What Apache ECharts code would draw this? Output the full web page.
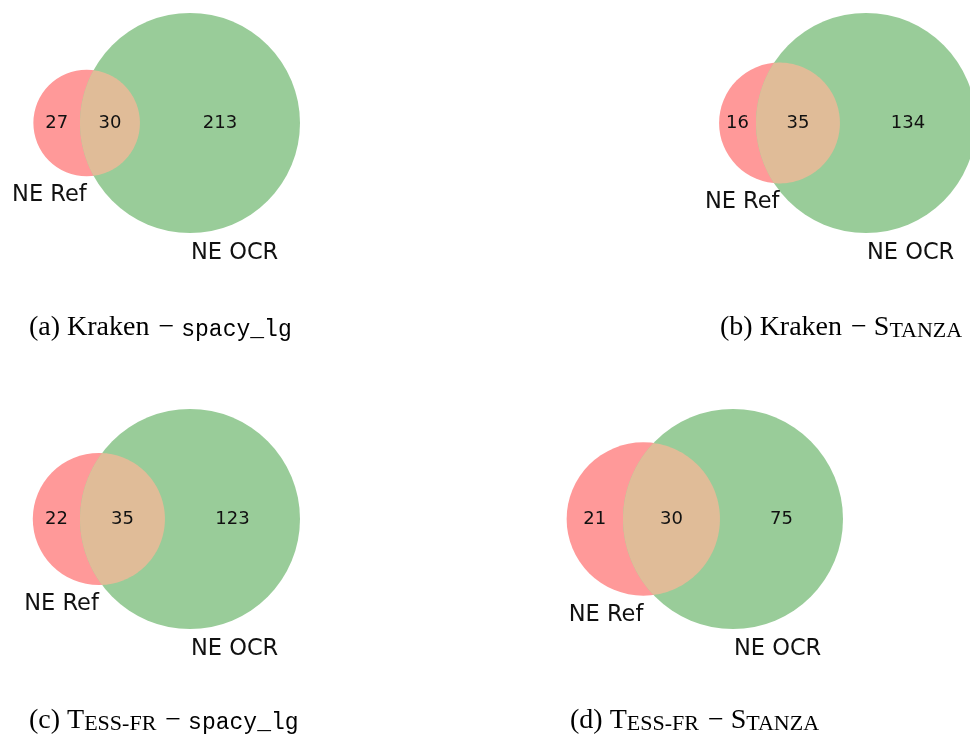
<!DOCTYPE html>
<html>
<head>
<meta charset="utf-8">
<script src="https://cdn.jsdelivr.net/npm/echarts@6/dist/echarts.min.js"></script>
<style>
html, body { margin: 0; padding: 0; background: #fff; }
#main { width: 970px; height: 736px; }
</style>
</head>
<body>
<div id="main"></div>
<script>
// counts of named entities per panel
var refOnly = [27, 16, 22, 21];
var common = [30, 35, 35, 30];
var ocrOnly = [213, 134, 123, 75];
var setNames = ['NE Ref', 'NE OCR'];
var captionTags = ['(a)', '(b)', '(c)', '(d)'];
var engines = ['Kraken', 'Kraken', 'Tess-fr', 'Tess-fr'];
var models = ['spacy_lg', 'Stanza', 'spacy_lg', 'Stanza'];

// layout (pixels): centre of the OCR circle in each panel, caption anchor
var anchors = [[190, 123], [866, 123], [190, 519], [733, 519]];
var captionPos = [[29, 342], [720, 342], [29, 735], [570, 735]];
var unitPx = 110;

var colRef = '#ff9999', colOcr = '#99cc99', colBoth = '#e0bc98';

function lensArea(r1, r2, d) {
    var a1 = Math.acos((d * d + r1 * r1 - r2 * r2) / (2 * d * r1));
    var a2 = Math.acos((d * d + r2 * r2 - r1 * r1) / (2 * d * r2));
    var k = (-d + r1 + r2) * (d + r1 - r2) * (d - r1 + r2) * (d + r1 + r2);
    return r1 * r1 * a1 + r2 * r2 * a2 - 0.5 * Math.sqrt(Math.max(k, 0));
}

function solveDist(r1, r2, target) {
    var lo = Math.abs(r1 - r2) + 1e-9, hi = r1 + r2 - 1e-9;
    for (var n = 0; n < 80; n++) {
        var mid = (lo + hi) / 2;
        if (lensArea(r1, r2, mid) > target) lo = mid; else hi = mid;
    }
    return (lo + hi) / 2;
}

function smallCaps(word) {
    return '{rm|' + word.charAt(0).toUpperCase() + '}{sc|' + word.slice(1).toUpperCase() + '}';
}

function captionText(i) {
    var eng = engines[i] === 'Kraken' ? '{rm|' + engines[i] + '}' : smallCaps(engines[i]);
    var mod = models[i] === 'spacy_lg' ? '{tt|' + models[i] + '}' : smallCaps(models[i]);
    return '{rm|' + captionTags[i] + ' }' + eng + '{dash|\u2212}' + mod;
}

var grids = [], xAxes = [], yAxes = [], series = [];
for (var i = 0; i < 4; i++) {
    var nRef = refOnly[i] + common[i];
    var nOcr = common[i] + ocrOnly[i];
    var rB = 1;
    var rA = Math.sqrt(nRef / nOcr);
    var d = solveDist(rA, rB, Math.PI * common[i] / nOcr);

    grids.push({
        left: anchors[i][0] - 1.6 * unitPx,
        top: anchors[i][1] - 1.1 * unitPx,
        width: 2.5 * unitPx,
        height: 2.2 * unitPx
    });
    xAxes.push({ type: 'value', gridIndex: i, min: -1.6, max: 0.9, show: false });
    yAxes.push({ type: 'value', gridIndex: i, min: -1.1, max: 1.1, show: false });

    series.push({
        type: 'custom',
        xAxisIndex: i,
        yAxisIndex: i,
        silent: true,
        clip: false,
        data: [[-d, 0, rA, rB, refOnly[i], common[i], ocrOnly[i]]],
        renderItem: function (params, api) {
            var xA = api.value(0), xB = api.value(1);
            var rA = api.value(2), rB = api.value(3);
            var d = xB - xA;
            var pA = api.coord([xA, 0]), pB = api.coord([xB, 0]);
            var sA = api.size([rA, rA])[0], sB = api.size([rB, rB])[0];

            // lens outline from both arcs
            var x0 = (d * d + rA * rA - rB * rB) / (2 * d);
            var h = Math.sqrt(Math.max(rA * rA - x0 * x0, 0));
            var al = Math.atan2(h, x0), be = Math.atan2(h, d - x0);
            var pts = [], n = 90, t;
            for (var k = 0; k <= n; k++) {
                t = -al + 2 * al * k / n;
                pts.push(api.coord([xA + rA * Math.cos(t), rA * Math.sin(t)]));
            }
            for (k = 0; k <= n; k++) {
                t = Math.PI - be + 2 * be * k / n;
                pts.push(api.coord([xB + rB * Math.cos(t), rB * Math.sin(t)]));
            }

            var lA = xA - rA, lB = xB - rB, hA = xA + rA, hB = xB + rB;
            var numFont = '18px "DejaVu Sans"', setFont = '22.5px "DejaVu Sans"';
            function num(x, v) {
                var p = api.coord([x, 0]);
                return { type: 'text', x: p[0], y: p[1],
                    style: { text: String(v), font: numFont, fill: '#111', align: 'center', verticalAlign: 'middle' } };
            }
            return {
                type: 'group',
                children: [
                    { type: 'circle', shape: { cx: pA[0], cy: pA[1], r: sA }, style: { fill: colRef } },
                    { type: 'circle', shape: { cx: pB[0], cy: pB[1], r: sB }, style: { fill: colOcr } },
                    { type: 'polygon', shape: { points: pts }, style: { fill: colBoth } },
                    num((lA + lB) / 2, api.value(4)),
                    num((lB + hA) / 2, api.value(5)),
                    num((hA + hB) / 2, api.value(6)),
                    { type: 'text', x: pA[0], y: pA[1] + sA + 19,
                      style: { text: setNames[0], font: setFont, fill: '#111', align: 'right', verticalAlign: 'middle' } },
                    { type: 'text', x: pB[0] + 1, y: pB[1] + sB + 20,
                      style: { text: setNames[1], font: setFont, fill: '#111', align: 'left', verticalAlign: 'middle' } }
                ]
            };
        }
    });
}

var captions = [];
for (var j = 0; j < 4; j++) {
    captions.push({
        type: 'text',
        x: captionPos[j][0],
        y: captionPos[j][1],
        style: {
            text: captionText(j),
            fill: '#000',
            align: 'left',
            verticalAlign: 'bottom',
            rich: {
                rm: { fontFamily: 'Liberation Serif', fontSize: 28, verticalAlign: 'bottom' },
                dash: { fontFamily: 'Liberation Serif', fontSize: 28, verticalAlign: 'bottom', padding: [0, 7, 0, 9] },
                sc: { fontFamily: 'Liberation Serif', fontSize: 22, verticalAlign: 'bottom' },
                tt: { fontFamily: 'Liberation Mono', fontSize: 23, verticalAlign: 'bottom', padding: [0, 0, 1, 0] }
            }
        }
    });
}

var myChart = echarts.init(document.getElementById('main'));
myChart.setOption({
    animation: false,
    grid: grids,
    xAxis: xAxes,
    yAxis: yAxes,
    series: series,
    graphic: captions
});
</script>
</body>
</html>
